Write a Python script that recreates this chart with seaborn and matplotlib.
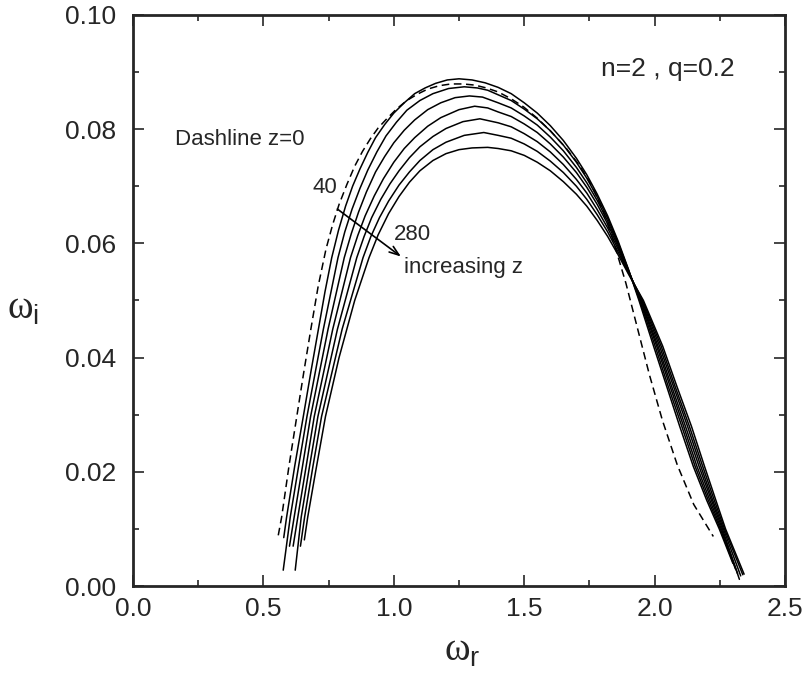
import seaborn as sns
import matplotlib.pyplot as plt
from matplotlib.ticker import MultipleLocator

# dispersion curves (omega_r, omega_i), n=2, q=0.2
# z = 0, dashed
wr_z0 = [0.557, 0.570, 0.598, 0.628, 0.655, 0.682, 0.710, 0.740, 0.765, 0.790, 0.820, 0.850, 0.880, 0.910,
         0.940, 0.973, 1.010, 1.050, 1.090, 1.130, 1.175, 1.220, 1.265, 1.310, 1.355, 1.400, 1.450, 1.497,
         1.550, 1.600, 1.660, 1.714, 1.760, 1.800, 1.840, 1.890, 1.935, 1.980, 2.030, 2.087, 2.150, 2.225]
wi_z0 = [0.0089, 0.0121, 0.0210, 0.0297, 0.0375, 0.0450, 0.0525, 0.0590, 0.0632, 0.0668, 0.0703, 0.0735, 0.0761, 0.0783,
         0.0802, 0.0818, 0.0835, 0.0850, 0.0861, 0.0870, 0.0876, 0.0879, 0.0879, 0.0877, 0.0872, 0.0865, 0.0853, 0.0839,
         0.0819, 0.0797, 0.0767, 0.0735, 0.0700, 0.0660, 0.0607, 0.0530, 0.0450, 0.0370, 0.0290, 0.0212, 0.0143, 0.0087]

# z = 40
wr_z40 = [0.578, 0.589, 0.620, 0.653, 0.682, 0.711, 0.736, 0.762, 0.788, 0.815, 0.842, 0.870, 0.900, 0.930,
          0.965, 1.000, 1.040, 1.080, 1.120, 1.160, 1.205, 1.250, 1.300, 1.350, 1.400, 1.450, 1.500, 1.550,
          1.600, 1.650, 1.700, 1.740, 1.780, 1.820, 1.860, 1.900, 1.940, 1.996, 2.046, 2.096, 2.148, 2.200,
          2.248, 2.300]
wi_z40 = [0.0085, 0.0121, 0.0210, 0.0297, 0.0375, 0.0450, 0.0515, 0.0575, 0.0623, 0.0665, 0.0700, 0.0730, 0.0759, 0.0785,
          0.0808, 0.0828, 0.0846, 0.0862, 0.0872, 0.0880, 0.0886, 0.0888, 0.0886, 0.0881, 0.0873, 0.0862, 0.0846, 0.0828,
          0.0806, 0.0780, 0.0749, 0.0720, 0.0686, 0.0648, 0.0604, 0.0554, 0.0500, 0.0420, 0.0350, 0.0280, 0.0210, 0.0150,
          0.0100, 0.0040]

# z = 80
wr_z80 = [0.576, 0.603, 0.635, 0.667, 0.730, 0.786, 0.812, 0.840, 0.870, 0.900, 0.935, 0.970, 1.010, 1.050,
          1.100, 1.150, 1.210, 1.270, 1.320, 1.360, 1.400, 1.450, 1.500, 1.550, 1.600, 1.650, 1.700, 1.740,
          1.780, 1.820, 1.860, 1.900, 1.943, 2.002, 2.052, 2.104, 2.155, 2.206, 2.252, 2.310]
wi_z80 = [0.0028, 0.0121, 0.0210, 0.0297, 0.0450, 0.0575, 0.0620, 0.0660, 0.0696, 0.0728, 0.0760, 0.0788, 0.0812, 0.0833,
          0.0850, 0.0862, 0.0871, 0.0874, 0.0872, 0.0868, 0.0860, 0.0850, 0.0835, 0.0818, 0.0797, 0.0772, 0.0742, 0.0714,
          0.0681, 0.0644, 0.0601, 0.0553, 0.0500, 0.0420, 0.0350, 0.0280, 0.0210, 0.0150, 0.0100, 0.0030]

# z = 120
wr_z120 = [0.600, 0.618, 0.650, 0.681, 0.748, 0.810, 0.837, 0.865, 0.895, 0.930, 0.965, 1.000, 1.040, 1.080,
           1.130, 1.180, 1.235, 1.290, 1.340, 1.400, 1.450, 1.500, 1.550, 1.600, 1.650, 1.700, 1.740, 1.780,
           1.820, 1.860, 1.900, 1.946, 2.008, 2.059, 2.111, 2.162, 2.212, 2.256, 2.318]
wi_z120 = [0.0070, 0.0121, 0.0210, 0.0297, 0.0450, 0.0575, 0.0617, 0.0655, 0.0690, 0.0725, 0.0752, 0.0776, 0.0798, 0.0816,
           0.0834, 0.0846, 0.0855, 0.0858, 0.0856, 0.0846, 0.0837, 0.0823, 0.0807, 0.0786, 0.0762, 0.0733, 0.0706, 0.0675,
           0.0639, 0.0598, 0.0552, 0.0500, 0.0420, 0.0350, 0.0280, 0.0210, 0.0150, 0.0100, 0.0022]

# z = 160
wr_z160 = [0.614, 0.632, 0.664, 0.695, 0.766, 0.834, 0.862, 0.890, 0.925, 0.960, 1.000, 1.040, 1.080, 1.130,
           1.180, 1.250, 1.310, 1.360, 1.400, 1.450, 1.500, 1.550, 1.600, 1.650, 1.700, 1.740, 1.780, 1.820,
           1.860, 1.900, 1.948, 2.013, 2.065, 2.118, 2.170, 2.218, 2.260, 2.325]
wi_z160 = [0.0070, 0.0121, 0.0210, 0.0297, 0.0450, 0.0575, 0.0614, 0.0648, 0.0683, 0.0713, 0.0742, 0.0766, 0.0785, 0.0805,
           0.0820, 0.0834, 0.0840, 0.0837, 0.0830, 0.0822, 0.0809, 0.0794, 0.0774, 0.0751, 0.0724, 0.0698, 0.0668, 0.0634,
           0.0594, 0.0551, 0.0500, 0.0420, 0.0350, 0.0280, 0.0210, 0.0150, 0.0100, 0.0012]

# z = 200
wr_z200 = [0.622, 0.645, 0.677, 0.709, 0.784, 0.858, 0.886, 0.915, 0.950, 0.985, 1.020, 1.060, 1.100, 1.150,
           1.200, 1.265, 1.330, 1.400, 1.450, 1.500, 1.550, 1.600, 1.650, 1.700, 1.740, 1.780, 1.820, 1.860,
           1.900, 1.951, 2.019, 2.072, 2.126, 2.177, 2.223, 2.264, 2.330]
wi_z200 = [0.0028, 0.0121, 0.0210, 0.0297, 0.0450, 0.0575, 0.0612, 0.0645, 0.0677, 0.0704, 0.0727, 0.0750, 0.0769, 0.0787,
           0.0801, 0.0813, 0.0818, 0.0811, 0.0804, 0.0792, 0.0778, 0.0760, 0.0738, 0.0712, 0.0688, 0.0659, 0.0627, 0.0590,
           0.0549, 0.0500, 0.0420, 0.0350, 0.0280, 0.0210, 0.0150, 0.0100, 0.0018]

# z = 240
wr_z240 = [0.642, 0.658, 0.690, 0.723, 0.802, 0.882, 0.912, 0.945, 0.980, 1.020, 1.060, 1.100, 1.150, 1.200,
           1.270, 1.345, 1.400, 1.450, 1.500, 1.550, 1.600, 1.650, 1.700, 1.740, 1.780, 1.820, 1.860, 1.900,
           1.954, 2.025, 2.078, 2.133, 2.184, 2.229, 2.268, 2.338]
wi_z240 = [0.0070, 0.0121, 0.0210, 0.0297, 0.0450, 0.0575, 0.0612, 0.0645, 0.0674, 0.0702, 0.0725, 0.0745, 0.0764, 0.0777,
           0.0789, 0.0794, 0.0789, 0.0784, 0.0774, 0.0761, 0.0744, 0.0724, 0.0700, 0.0677, 0.0650, 0.0620, 0.0585, 0.0548,
           0.0500, 0.0420, 0.0350, 0.0280, 0.0210, 0.0150, 0.0100, 0.0020]

# z = 280
wr_z280 = [0.657, 0.670, 0.700, 0.738, 0.790, 0.850, 0.905, 0.940, 0.980, 1.020, 1.060, 1.100, 1.150, 1.200,
           1.250, 1.300, 1.360, 1.400, 1.450, 1.500, 1.550, 1.600, 1.650, 1.700, 1.740, 1.780, 1.820, 1.860,
           1.900, 1.957, 2.031, 2.085, 2.141, 2.191, 2.235, 2.272, 2.343]
wi_z280 = [0.0081, 0.0121, 0.0200, 0.0297, 0.0400, 0.0500, 0.0575, 0.0615, 0.0652, 0.0682, 0.0707, 0.0727, 0.0745, 0.0757,
           0.0764, 0.0767, 0.0768, 0.0766, 0.0762, 0.0754, 0.0742, 0.0727, 0.0708, 0.0686, 0.0665, 0.0640, 0.0612, 0.0580,
           0.0546, 0.0500, 0.0420, 0.0350, 0.0280, 0.0210, 0.0150, 0.0100, 0.0021]

solid_curves = [(wr_z40, wi_z40), (wr_z80, wi_z80), (wr_z120, wi_z120), (wr_z160, wi_z160),
                (wr_z200, wi_z200), (wr_z240, wi_z240), (wr_z280, wi_z280)]

sns.set_style("ticks")
plt.rcParams['font.family'] = ['Liberation Sans', 'DejaVu Sans']
plt.rcParams['mathtext.fontset'] = 'custom'
plt.rcParams['mathtext.rm'] = 'Liberation Serif'
plt.rcParams['mathtext.sf'] = 'Liberation Sans'

fig = plt.figure(figsize=(8.06, 6.73), dpi=100)
ax = fig.add_axes([0.165, 0.129, 0.809, 0.849])

sns.lineplot(x=wr_z0, y=wi_z0, sort=False, estimator=None, color='black', lw=1.1,
             linestyle=(0, (5, 3)), ax=ax)
for xs, ys in solid_curves:
    sns.lineplot(x=xs, y=ys, sort=False, estimator=None, color='black', lw=1.1, ax=ax)

ax.set_xlim(0, 2.5)
ax.set_ylim(0, 0.10)
ax.xaxis.set_major_locator(MultipleLocator(0.5))
ax.xaxis.set_minor_locator(MultipleLocator(0.25))
ax.yaxis.set_major_locator(MultipleLocator(0.02))
ax.yaxis.set_minor_locator(MultipleLocator(0.01))
ax.xaxis.set_major_formatter(plt.FormatStrFormatter('%.1f'))
ax.yaxis.set_major_formatter(plt.FormatStrFormatter('%.2f'))
ax.tick_params(which='both', direction='in', top=True, right=True, labelsize=19, width=1.2)
ax.tick_params(which='major', length=8)
ax.tick_params(which='minor', length=4)
ax.tick_params(axis='y', which='major', pad=12)
ax.tick_params(axis='x', which='major', pad=8)
for s in ax.spines.values():
    s.set_linewidth(2)

ax.set_xlabel(r'$\mathrm{\omega}_{\mathsf{r}}$', fontsize=28, va='center')
ax.set_ylabel(r'$\mathrm{\omega}_{\mathsf{i}}$', fontsize=28, rotation=0, va='center')
ax.xaxis.set_label_coords(0.505, -0.114)
ax.yaxis.set_label_coords(-0.168, 0.485)

ax.text(0.161, 0.0782, 'Dashline z=0', fontsize=16, va='center')
ax.text(1.796, 0.0906, 'n=2 , q=0.2', fontsize=19, va='center')
ax.text(0.736, 0.0697, '40', fontsize=16, ha='center', va='center')
ax.text(1.07, 0.0615, '280', fontsize=16, ha='center', va='center')
ax.text(1.04, 0.0557, 'increasing z', fontsize=16, va='center')
ax.annotate('', xy=(1.036, 0.0574), xytext=(0.775, 0.0663),
            arrowprops=dict(arrowstyle='->,head_length=0.7,head_width=0.25', lw=1.2, color='black'))

plt.savefig('out.png', dpi=100)
